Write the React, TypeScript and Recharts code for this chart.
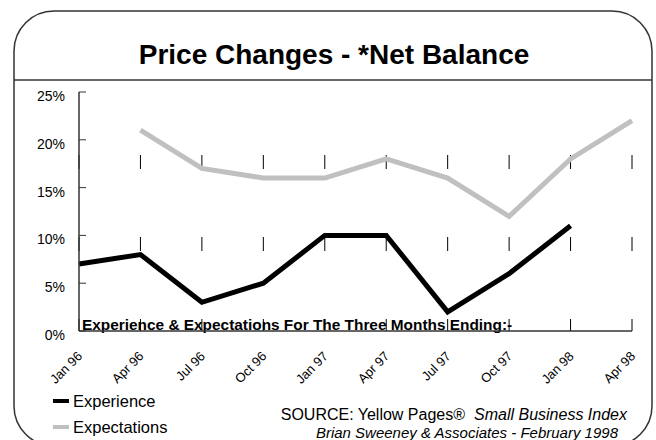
import { LineChart, Line, XAxis, YAxis, CartesianGrid } from 'recharts'

const months = ['Jan 96', 'Apr 96', 'Jul 96', 'Oct 96', 'Jan 97', 'Apr 97', 'Jul 97', 'Oct 97', 'Jan 98', 'Apr 98']
const experience = [7, 8, 3, 5, 10, 10, 2, 6, 11, null]
const expectations = [null, 21, 17, 16, 16, 18, 16, 12, 18, 22]
const yTicks = [0, 5, 10, 15, 20, 25]

const data = months.map((m, i) => ({ month: m, experience: experience[i], expectations: expectations[i] }))

const FONT = '"Liberation Sans", Arial, sans-serif'

const MonthTick = (props: any) => {
    const { x, y, payload } = props
    return (
        <text
            x={x + 4}
            y={y + 24}
            transform={`rotate(-45 ${x + 4} ${y + 24})`}
            textAnchor="end"
            fontSize={13}
            fontFamily={FONT}
            fill="#000"
        >
            {payload.value}
        </text>
    )
}

export default function App() {
    return (
        <div style={{ position: 'absolute', left: 0, top: 0, width: 656, height: 440, background: '#fff', overflow: 'hidden' }}>
            <svg width={656} height={440} style={{ position: 'absolute', left: 0, top: 0 }}>
                <rect x={14} y={11} width={638} height={435} rx={40} ry={40} fill="none" stroke="#333" strokeWidth={1.5} />
                <line x1={14} y1={80} x2={652} y2={80} stroke="#333" strokeWidth={1.5} />
            </svg>
            <div
                style={{
                    position: 'absolute', left: 14, width: 640, top: 39, textAlign: 'center', lineHeight: 'normal',
                    fontFamily: FONT, fontWeight: 'bold', fontSize: 28, color: '#000', whiteSpace: 'nowrap'
                }}
            >
                Price Changes - *Net Balance
            </div>
            <div
                style={{
                    position: 'absolute', left: 82, top: 316, fontFamily: FONT, fontWeight: 'bold',
                    fontSize: 15.4, color: '#000', whiteSpace: 'nowrap'
                }}
            >
                Experience &amp; Expectations For The Three Months Ending:-
            </div>
            <div style={{ position: 'absolute', left: 0, top: 0 }}>
                <LineChart width={656} height={440} data={data} margin={{ top: 92, right: 24, left: 19, bottom: 69 }}>
                    <CartesianGrid horizontal={false} stroke="#000" strokeDasharray="14 68" strokeDashoffset={19} />
                    <CartesianGrid vertical={false} stroke="#333" strokeDasharray="7 2000" />
                    <XAxis
                        dataKey="month"
                        interval={0}
                        height={40}
                        padding={{ left: 0, right: 0 }}
                        tick={<MonthTick />}
                        tickLine={false}
                        tickSize={0}
                        axisLine={{ stroke: '#333', strokeWidth: 1.5 }}
                    />
                    <YAxis
                        width={60}
                        domain={[0, 25]}
                        ticks={yTicks}
                        tickFormatter={(v: number) => `${v}%`}
                        tickLine={false}
                        tickSize={0}
                        tickMargin={14}
                        tick={{ fontSize: 14, fontFamily: FONT, fill: '#000', dy: 4 }}
                        axisLine={{ stroke: '#333', strokeWidth: 1.5 }}
                    />
                    <Line type="linear" dataKey="experience" stroke="#000" strokeWidth={5} dot={false} isAnimationActive={false} />
                    <Line type="linear" dataKey="expectations" stroke="#c0c0c0" strokeWidth={5} dot={false} isAnimationActive={false} />
                </LineChart>
            </div>
            <div style={{ position: 'absolute', left: 53, top: 388, fontFamily: FONT, fontSize: 16.5, color: '#000', lineHeight: '26px' }}>
                <div style={{ display: 'flex', alignItems: 'center' }}>
                    <span style={{ width: 16, height: 4, background: '#000', marginRight: 4 }} />
                    Experience
                </div>
                <div style={{ display: 'flex', alignItems: 'center' }}>
                    <span style={{ width: 16, height: 4, background: '#c0c0c0', marginRight: 4 }} />
                    Expectations
                </div>
            </div>
            <div style={{ position: 'absolute', left: 200, width: 427, top: 406, textAlign: 'right', fontFamily: FONT, color: '#000', whiteSpace: 'nowrap' }}>
                <span style={{ fontSize: 16 }}>SOURCE: Yellow Pages®</span>
                <span style={{ fontSize: 16, fontStyle: 'italic', marginLeft: 9 }}>Small Business Index</span>
            </div>
            <div style={{ position: 'absolute', left: 200, width: 418, top: 424, textAlign: 'right', fontFamily: FONT, fontSize: 15, fontStyle: 'italic', color: '#000', whiteSpace: 'nowrap' }}>
                Brian Sweeney &amp; Associates - February 1998
            </div>
        </div>
    )
}
